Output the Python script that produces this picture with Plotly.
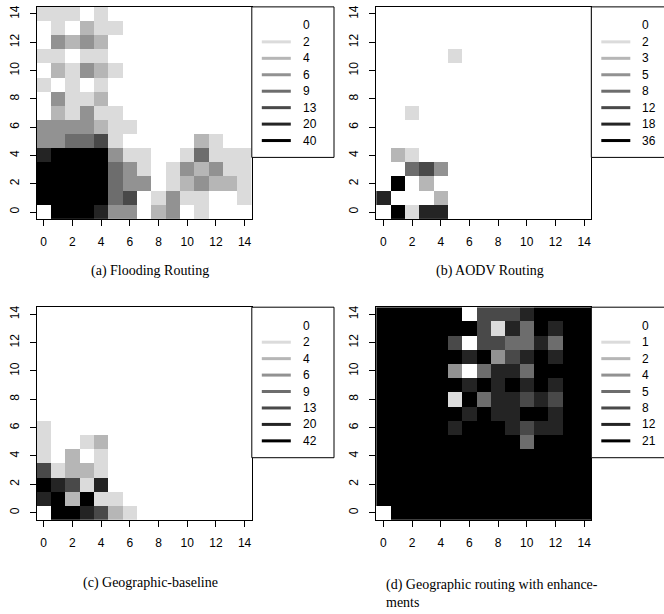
import plotly.graph_objects as go

W, H = 664, 614

# gray levels used by the image (level 0 = white ... level 7 = black)
GRAYS = ["#FFFFFF", "#DBDBDB", "#B6B6B6", "#929292",
         "#6D6D6D", "#494949", "#242424", "#000000"]

X_CELLS = list(range(15))
Y_CELLS = list(range(15))
TICKS = [0, 2, 4, 6, 8, 10, 12, 14]

# colour level of each cell, top row (y = 14) first, x = 0..14 left to right
FLOOD_ROWS = [
    "111010000000000",
    "010211000000000",
    "032320000000000",
    "110110000000000",
    "021321000000000",
    "101010000000000",
    "031120000000000",
    "021311000000000",
    "333321100000000",
    "334451000002100",
    "677773110014111",
    "777774310132311",
    "777774330123221",
    "777774501311001",
    "077763302301000",
]
AODV_ROWS = [
    "000000000000000",
    "000000000000000",
    "000000000000000",
    "000001000000000",
    "000000000000000",
    "000000000000000",
    "000000000000000",
    "001000000000000",
    "000000000000000",
    "000000000000000",
    "021000000000000",
    "004530000000000",
    "070200000000000",
    "600020000000000",
    "071660000000000",
]
GEO_BASE_ROWS = [
    "000000000000000",
    "000000000000000",
    "000000000000000",
    "000000000000000",
    "000000000000000",
    "000000000000000",
    "000000000000000",
    "000000000000000",
    "100000000000000",
    "100120000000000",
    "102010000000000",
    "512210000000000",
    "765160000000000",
    "672711000000000",
    "077652100000000",
]
GEO_ENH_ROWS = [
    "777777055567777",
    "777777751647677",
    "777775055446477",
    "777777673567677",
    "777773046647777",
    "777777676767677",
    "777771746656577",
    "777777676677677",
    "777776777656677",
    "777777777747777",
    "777777777777777",
    "777777777777777",
    "777777777777777",
    "777777777777777",
    "077777777777777",
]

FLOOD_BREAKS = [0, 2, 4, 6, 9, 13, 20, 40]
AODV_BREAKS = [0, 2, 3, 5, 8, 12, 18, 36]
GEO_BASE_BREAKS = [0, 2, 4, 6, 9, 13, 20, 42]
GEO_ENH_BREAKS = [0, 1, 2, 4, 5, 8, 12, 21]

CAPTIONS = ["(a) Flooding Routing", "(b) AODV Routing",
            "(c) Geographic-baseline",
            "(d) Geographic routing with enhance-<br>ments"]


def px_x(p):
    return p / W


def px_y(p):
    return 1 - p / H


# plot areas in pixels: (left, right, top, bottom)
AREAS = [
    (36.5, 251.8, 4.9, 217.8),
    (376.2, 591.3, 4.9, 217.8),
    (36.5, 251.8, 306.2, 519.4),
    (376.2, 591.3, 306.2, 519.4),
]
FIG_RIGHT = [332, 664, 332, 664]
CAP_POS = [(150, 270, "center"), (490, 270, "center"),
           (150, 583, "center"), (384, 593, "left")]

panels = [
    (FLOOD_ROWS, FLOOD_BREAKS),
    (AODV_ROWS, AODV_BREAKS),
    (GEO_BASE_ROWS, GEO_BASE_BREAKS),
    (GEO_ENH_ROWS, GEO_ENH_BREAKS),
]

colorscale = []
for i, c in enumerate(GRAYS):
    colorscale.append([i / len(GRAYS), c])
    colorscale.append([(i + 1) / len(GRAYS), c])

fig = go.Figure()
shapes = []
annotations = []
layout_axes = {}
tick_font = dict(family="Liberation Sans, Arial, sans-serif", size=12, color="#000")

for k, ((rows, breaks), area) in enumerate(zip(panels, AREAS)):
    n = "" if k == 0 else str(k + 1)
    z = [[int(ch) for ch in r] for r in reversed(rows)]
    fig.add_trace(go.Heatmap(
        x=X_CELLS, y=Y_CELLS, z=z, zmin=-0.5, zmax=7.5,
        colorscale=colorscale, showscale=False,
        xaxis="x" + n, yaxis="y" + n, hoverinfo="skip"))
    l, r, t, b = area
    layout_axes["xaxis" + n] = dict(
        domain=[px_x(l), px_x(r)], range=[-0.5, 14.5], anchor="y" + n,
        tickmode="array", tickvals=TICKS, ticks="outside", ticklen=6,
        tickcolor="#000", tickwidth=1, showgrid=False, zeroline=False,
        showline=True, linecolor="#000", linewidth=1, mirror=True,
        tickfont=tick_font, ticklabelstandoff=6, fixedrange=True)
    layout_axes["yaxis" + n] = dict(
        domain=[px_y(b), px_y(t)], range=[-0.5, 14.5], anchor="x" + n,
        tickmode="array", tickvals=TICKS, ticks="outside", ticklen=6,
        tickcolor="#000", tickwidth=1, showgrid=False, zeroline=False,
        showline=True, linecolor="#000", linewidth=1, mirror=True,
        tickangle=-90, tickfont=tick_font, ticklabelstandoff=6,
        fixedrange=True)

    # legend box
    bl, bt, bb, br = r, t, t + 151, FIG_RIGHT[k] + 2
    shapes.append(dict(type="rect", xref="paper", yref="paper",
                       x0=px_x(bl), x1=px_x(br), y0=px_y(bb), y1=px_y(bt),
                       line=dict(color="#000", width=1), fillcolor="#fff",
                       layer="above"))
    for i, (lab, col) in enumerate(zip(breaks, GRAYS)):
        yy = bt + 18.6 + i * 16.5
        shapes.append(dict(type="line", xref="paper", yref="paper",
                           x0=px_x(bl + 10), x1=px_x(bl + 39),
                           y0=px_y(yy), y1=px_y(yy),
                           line=dict(color=col, width=3), layer="above"))
        annotations.append(dict(
            xref="paper", yref="paper", x=px_x(bl + 49), y=px_y(yy),
            text=str(lab), showarrow=False, xanchor="left", yanchor="middle",
            font=tick_font))

    cx, cy, anc = CAP_POS[k]
    annotations.append(dict(
        xref="paper", yref="paper", x=px_x(cx), y=px_y(cy),
        text=CAPTIONS[k], showarrow=False, xanchor=anc, yanchor="middle",
        align="left",
        font=dict(family="Liberation Serif, Times New Roman, serif",
                  size=14, color="#000")))

fig.update_layout(
    width=W, height=H, margin=dict(l=0, r=0, t=0, b=0),
    paper_bgcolor="#fff", plot_bgcolor="#fff", showlegend=False,
    shapes=shapes, annotations=annotations, **layout_axes)

fig.write_html("out.html",
               config={"displayModeBar": False, "staticPlot": True},
               post_script="document.body.style.margin='0px';"
                           "document.body.style.overflow='hidden';")
